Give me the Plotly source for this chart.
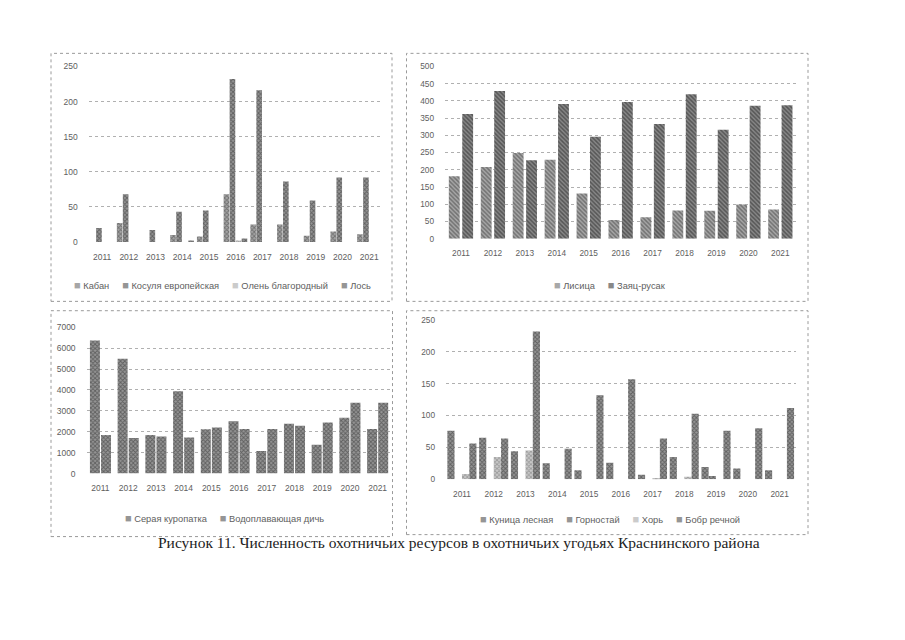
import plotly.graph_objects as go

W, H = 905, 640
OFF = 8  # page body margin
FW, FH = W - OFF, H - OFF

years = ["2011", "2012", "2013", "2014", "2015", "2016", "2017", "2018", "2019", "2020", "2021"]

# Panel 1 (top-left): ungulates
kaban = [0, 27, 0, 10, 8, 68, 25, 25, 9, 15, 11]
kosulya = [20, 68, 17, 43, 45, 232, 216, 86, 59, 92, 92]
olen = [0, 0, 0, 0, 0, 1, 0, 0, 0, 0, 0]
los = [0, 0, 0, 1, 0, 5, 0, 0, 0, 0, 0]

# Panel 2 (top-right)
lisitsa = [181, 208, 249, 229, 131, 54, 62, 82, 81, 99, 85]
zayats = [362, 429, 228, 391, 296, 397, 333, 419, 316, 386, 387]

# Panel 3 (bottom-left)
kuropatka = [6370, 5490, 1850, 3940, 2120, 2500, 1080, 2390, 1380, 2670, 2135]
vodoplav = [1850, 1700, 1775, 1730, 2210, 2135, 2135, 2290, 2450, 3390, 3390]

# Panel 4 (bottom-right)
kunitsa = [76, 65, 44, 25, 14, 26, 7, 35, 19, 17, 14]
gornostay = [0, 0, 0, 0, 0, 0, 0, 0, 5, 0, 0]
khor = [8, 35, 45, 0, 0, 0, 2, 4, 0, 0, 0]
bobr = [56, 64, 232, 48, 132, 157, 64, 103, 76, 80, 112]

caption = "Рисунок 11. Численность охотничьих ресурсов в охотничьих угодьях Краснинского района"

FONT = "Liberation Sans"
TXT = "#606060"
GRID = "#b0b0b0"

def px_x(v):
    return (v - OFF) / FW

def px_y(v):
    return 1 - (v - OFF) / FH

# styles: (fg, bg, shape)
DARK = ("#2a2a2a", "#959595", "x")
MID = ("#383838", "#a6a6a6", "x")
LIGHT = ("#6a6a6a", "#cbcbcb", "x")

panels = [
    dict(ax="", series=[("Кабан", kaban, MID), ("Косуля европейская", kosulya, DARK),
                        ("Олень благородный", olen, LIGHT), ("Лось", los, DARK)],
         width=0.21, offsets=[-0.45, -0.225, 0.0, 0.225],
         xd=(88.8, 382.5), yd=(240.7, 62.3), yr=250, dt=50, box=(51, 49, 392, 301),
         leg=(222, 284.3), tick=8.5),
    dict(ax="2", series=[("Лисица", lisitsa, ("#3a3a3a", "#a8a8a8", "\\")),
                         ("Заяц-русак", zayats, ("#222222", "#888888", "\\"))],
         width=0.34, offsets=[-0.38, 0.04],
         xd=(445, 796.3), yd=(237.3, 62.3), yr=500, dt=50, box=(406.5, 49, 808, 301),
         leg=(610, 284.3), tick=8.3),
    dict(ax="3", series=[("Серая куропатка", kuropatka, DARK), ("Водоплавающая дичь", vodoplav, DARK)],
         width=0.36, offsets=[-0.38, 0.02],
         xd=(86.6, 391.5), yd=(476, 327.3), yr=7000, dt=1000, box=(51, 310.5, 392.5, 540),
         leg=(224, 520.7), tick=8.5),
    dict(ax="4", series=[("Куница лесная", kunitsa, DARK), ("Горностай", gornostay, DARK),
                         ("Хорь", khor, LIGHT), ("Бобр речной", bobr, DARK)],
         width=0.225, offsets=[-0.46, -0.23, 0.0, 0.23],
         xd=(446.1, 795.5), yd=(481.7, 320), yr=250, dt=50, box=(406.5, 310.5, 808, 538),
         leg=(610, 521.7), tick=8.3),
]

fig = go.Figure()
shapes = []
annotations = []
layout = {}

for p in panels:
    xa = "x" + p["ax"]
    ya = "y" + p["ax"]
    for (name, vals, st), off in zip(p["series"], p["offsets"]):
        fg, bg, shp = st
        fig.add_trace(go.Bar(
            x=years, y=vals, name=name, xaxis=xa, yaxis=ya,
            width=p["width"], offset=off, showlegend=False,
            marker=dict(color=bg, line=dict(width=0),
                        pattern=dict(shape=shp, fgcolor=fg, bgcolor=bg, size=3, solidity=0.5)),
        ))
    layout["xaxis" + p["ax"]] = dict(
        domain=[px_x(p["xd"][0]), px_x(p["xd"][1])], anchor=ya, type="category",
        range=[-0.5, 10.5], showgrid=False, showline=False, zeroline=False, ticks="",
        tickfont=dict(family=FONT, size=p["tick"], color=TXT), ticklabelstandoff=8,
    )
    layout["yaxis" + p["ax"]] = dict(
        domain=[px_y(p["yd"][0]), px_y(p["yd"][1])], anchor=xa, range=[0, p["yr"]],
        dtick=p["dt"], tick0=0, showgrid=True, gridcolor=GRID, griddash="dot", gridwidth=1,
        showline=False, zeroline=False, ticks="",
        tickfont=dict(family=FONT, size=p["tick"], color=TXT), ticklabelstandoff=10,
    )
    x0, y0, x1, y1 = p["box"]
    shapes.append(dict(type="rect", xref="paper", yref="paper",
                       x0=px_x(x0), x1=px_x(x1), y0=px_y(y1), y1=px_y(y0),
                       line=dict(color="#9a9a9a", width=1, dash="dot"), layer="below"))
    parts = []
    for name, vals, st in p["series"]:
        parts.append(f"<span style='color:{st[1]};font-size:11px'>■</span> {name}")
    annotations.append(dict(
        xref="paper", yref="paper", x=px_x(p["leg"][0]), y=px_y(p["leg"][1]),
        xanchor="center", yanchor="middle", showarrow=False,
        text="     ".join(parts), font=dict(family=FONT, size=9.3, color=TXT),
    ))

annotations.append(dict(
    xref="paper", yref="paper", x=px_x(459), y=px_y(546), xanchor="center", yanchor="middle",
    showarrow=False, text=caption, font=dict(family="Liberation Serif", size=15.5, color="#222222"),
))

fig.update_layout(
    width=FW, height=FH, margin=dict(l=0, r=0, t=0, b=0),
    paper_bgcolor="white", plot_bgcolor="white", barmode="overlay",
    shapes=shapes, annotations=annotations, **layout,
)

fig.write_html("out.html")
